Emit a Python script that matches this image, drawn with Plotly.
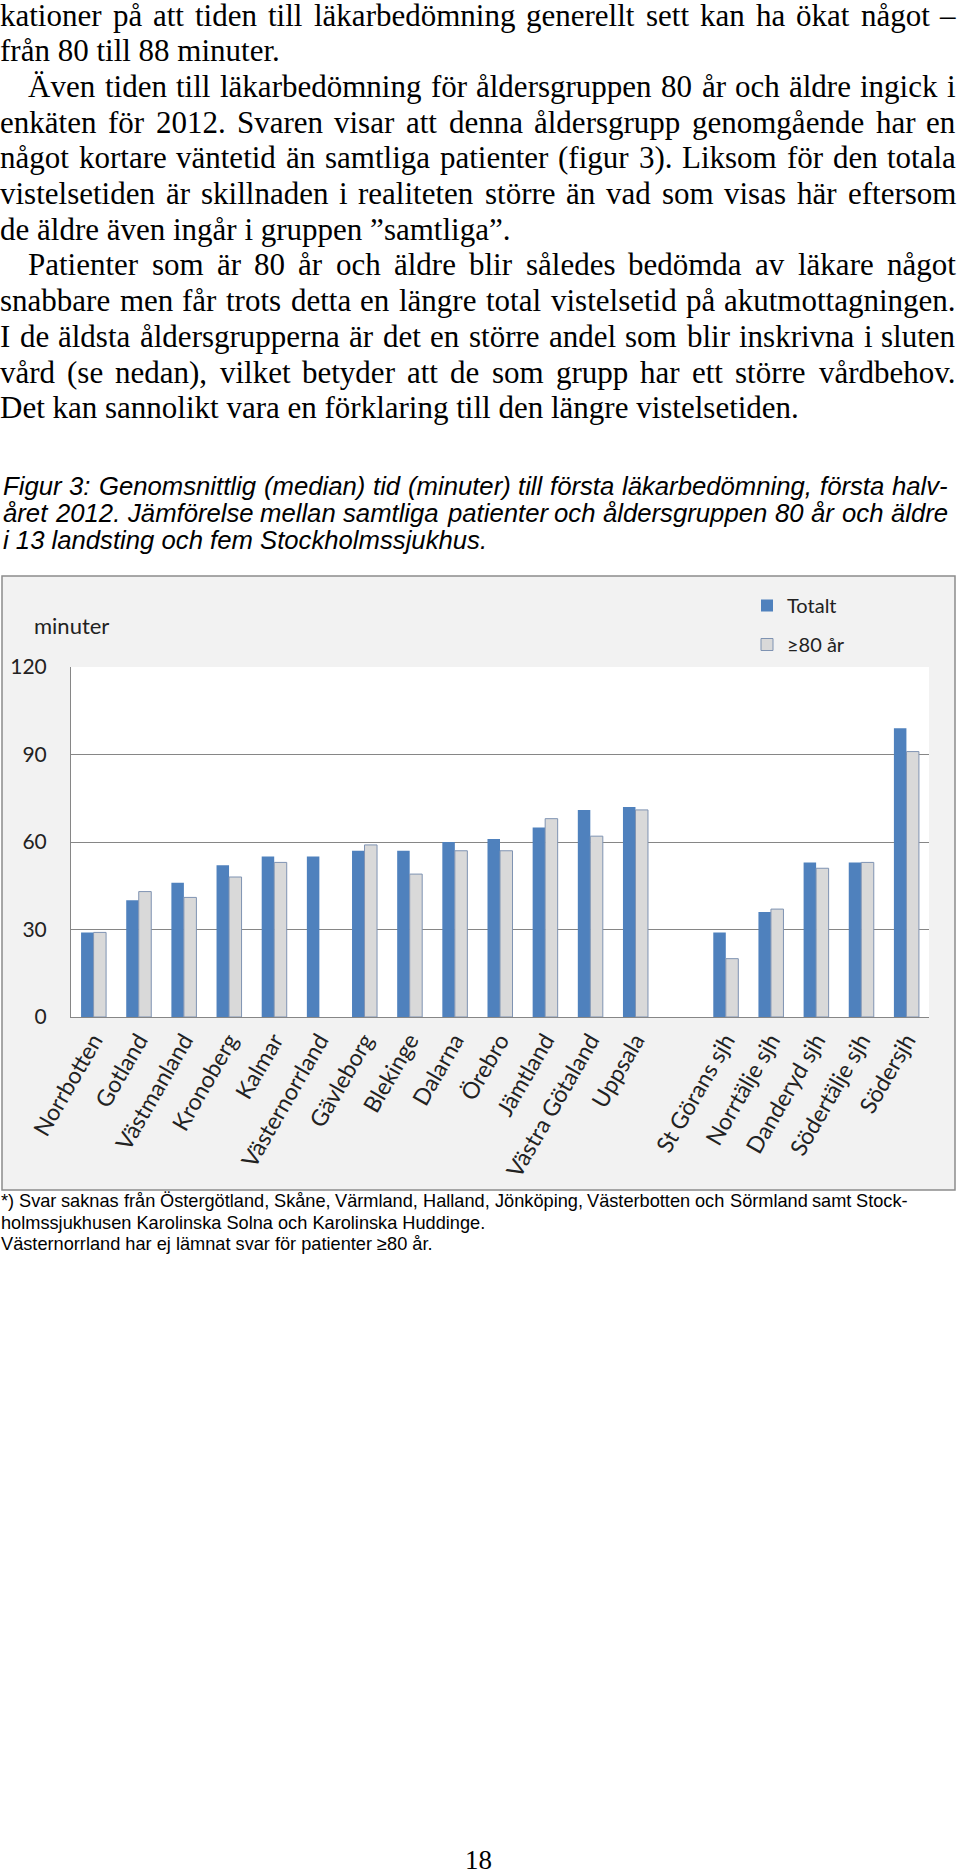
import plotly.graph_objects as go

# ---------------- data ----------------
categories = ["Norrbotten", "Gotland", "Västmanland", "Kronoberg", "Kalmar",
              "Västernorrland", "Gävleborg", "Blekinge", "Dalarna", "Örebro",
              "Jämtland", "Västra Götaland", "Uppsala", " ",
              "St Görans sjh", "Norrtälje sjh", "Danderyd sjh", "Södertälje sjh", "Södersjh"]
totalt = [29, 40, 46, 52, 55, 55, 57, 57, 60, 61, 65, 71, 72, None, 29, 36, 53, 53, 99]
over80 = [29, 43, 41, 48, 53, None, 59, 49, 57, 57, 68, 62, 71, None, 20, 37, 51, 53, 91]
y_ticks = [0, 30, 60, 90, 120]

body_lines = [
    "kationer på att tiden till läkarbedömning generellt sett kan ha ökat något –",
    "från 80 till 88 minuter.",
    "Även tiden till läkarbedömning för åldersgruppen 80 år och äldre ingick i",
    "enkäten för 2012. Svaren visar att denna åldersgrupp genomgående har en",
    "något kortare väntetid än samtliga patienter (figur 3). Liksom för den totala",
    "vistelsetiden är skillnaden i realiteten större än vad som visas här eftersom",
    "de äldre även ingår i gruppen ”samtliga”.",
    "Patienter som är 80 år och äldre blir således bedömda av läkare något",
    "snabbare men får trots detta en längre total vistelsetid på akutmottagningen.",
    "I de äldsta åldersgrupperna är det en större andel som blir inskrivna i sluten",
    "vård (se nedan), vilket betyder att de som grupp har ett större vårdbehov.",
    "Det kan sannolikt vara en förklaring till den längre vistelsetiden.",
]
body_indented = [2, 7]
body_last_lines = [1, 6, 11]
caption_lines = [
    "Figur 3: Genomsnittlig (median) tid (minuter) till första läkarbedömning, första halv-",
    "året 2012. Jämförelse mellan samtliga patienter och åldersgruppen 80 år och äldre",
    "i 13 landsting och fem Stockholmssjukhus.",
]
caption_last_lines = [2]
footnote_lines = [
    "*) Svar saknas från Östergötland, Skåne, Värmland, Halland, Jönköping, Västerbotten och Sörmland samt Stock-",
    "holmssjukhusen Karolinska Solna och Karolinska Huddinge.",
    "Västernorrland har ej lämnat svar för patienter ≥80 år.",
]
footnote_last_lines = [1, 2]
page_number = "18"

# ---------------- font metrics (advance widths, 1/1000 em) used to justify text ----------------
SERIF_W = {' ': 250, '–': 500, '”': 444, '(': 333, ')': 333, ',': 250, '.': 250, ':': 278,
           'A': 722, 'B': 667, 'C': 667, 'D': 722, 'E': 611, 'F': 556, 'G': 722, 'H': 722, 'I': 333,
           'J': 389, 'K': 722, 'L': 611, 'M': 889, 'N': 722, 'O': 722, 'P': 556, 'Q': 722, 'R': 667,
           'S': 556, 'T': 611, 'U': 722, 'V': 722, 'W': 944, 'X': 722, 'Y': 722, 'Z': 611,
           'a': 444, 'b': 500, 'c': 444, 'd': 500, 'e': 444, 'f': 333, 'g': 500, 'h': 500, 'i': 278,
           'j': 278, 'k': 500, 'l': 278, 'm': 778, 'n': 500, 'o': 500, 'p': 500, 'q': 500, 'r': 333,
           's': 389, 't': 278, 'u': 500, 'v': 500, 'w': 722, 'x': 500, 'y': 500, 'z': 444,
           'å': 444, 'ä': 444, 'ö': 500, 'Å': 722, 'Ä': 722, 'Ö': 722}
SANS_W = {' ': 278, '(': 333, ')': 333, ',': 278, '.': 278, ':': 278, '-': 333, '*': 389, '≥': 549,
          'A': 667, 'B': 667, 'C': 722, 'D': 722, 'E': 667, 'F': 611, 'G': 778, 'H': 722, 'I': 278,
          'J': 500, 'K': 667, 'L': 556, 'M': 833, 'N': 722, 'O': 778, 'P': 667, 'Q': 778, 'R': 722,
          'S': 667, 'T': 611, 'U': 722, 'V': 667, 'W': 944, 'X': 667, 'Y': 667, 'Z': 611,
          'a': 556, 'b': 556, 'c': 500, 'd': 556, 'e': 556, 'f': 278, 'g': 556, 'h': 556, 'i': 222,
          'j': 222, 'k': 500, 'l': 222, 'm': 833, 'n': 556, 'o': 556, 'p': 556, 'q': 556, 'r': 333,
          's': 500, 't': 278, 'u': 556, 'v': 500, 'w': 722, 'x': 500, 'y': 500, 'z': 500,
          'å': 556, 'ä': 556, 'ö': 556, 'Å': 667, 'Ä': 667, 'Ö': 778}
for d in range(10):
    SERIF_W[str(d)] = 500
    SANS_W[str(d)] = 556

# ---------------- layout geometry (pixels) ----------------
W, H = 960, 1875
L, R, T, B = 71, 929, 667, 1017
PW, PH = R - L, B - T


def fx(px):
    return (px - L) / PW


def fy(py):
    return (B - py) / PH


BLUE = "#4F81BD"
GREY = "#D9D9D9"
GRID = "#868686"
CHART_FONT = "Lato, Calibri, Carlito, sans-serif"
SERIF = "Liberation Serif, Times New Roman, serif"
SANS = "Liberation Sans, Arial, sans-serif"

annotations = []


def text_line(line, y, x_left, x_right, size, family, metrics, justify, italic=False):
    font = dict(family=family, size=size, color="black")
    wrap = (lambda s: "<i>" + s + "</i>") if italic else (lambda s: s)
    words = line.split(" ")
    if not justify or len(words) < 2:
        annotations.append(dict(text=wrap(line), xref="paper", yref="paper", x=fx(x_left), y=fy(y),
                                xanchor="left", yanchor="middle", showarrow=False, font=font,
                                borderpad=0, borderwidth=0))
        return
    widths = [sum(metrics.get(c, 500) for c in w) * size / 1000 for w in words]
    gap = (x_right - x_left - sum(widths)) / (len(words) - 1)
    pos = x_left
    for i, (w, wd) in enumerate(zip(words, widths)):
        if i == len(words) - 1:
            annotations.append(dict(text=wrap(w), xref="paper", yref="paper", x=fx(x_right), y=fy(y),
                                    xanchor="right", yanchor="middle", showarrow=False, font=font,
                                    borderpad=0, borderwidth=0))
        else:
            annotations.append(dict(text=wrap(w), xref="paper", yref="paper", x=fx(pos), y=fy(y),
                                    xanchor="left", yanchor="middle", showarrow=False, font=font,
                                    borderpad=0, borderwidth=0))
        pos += wd + gap


for i, line in enumerate(body_lines):
    text_line(line, 15 + 35.7 * i, 28 if i in body_indented else 0, 956, 31, SERIF, SERIF_W,
              i not in body_last_lines)
for i, line in enumerate(caption_lines):
    text_line(line, 486 + 27 * i, 3, 948, 25.7, SANS, SANS_W, i not in caption_last_lines, italic=True)
for i, line in enumerate(footnote_lines):
    text_line(line, 1201 + 21.5 * i, 1, 908, 18.2, SANS, SANS_W, i not in footnote_last_lines)

annotations.append(dict(
    text=page_number, xref="paper", yref="paper", x=fx(478), y=fy(1860),
    xanchor="center", yanchor="middle", showarrow=False,
    font=dict(family=SERIF, size=27, color="black")))
annotations.append(dict(
    text="minuter", xref="paper", yref="paper", x=fx(32), y=fy(625),
    xanchor="left", yanchor="middle", showarrow=False,
    font=dict(family=CHART_FONT, size=22, color="#222222")))

shapes = [
    dict(type="rect", xref="paper", yref="paper", x0=fx(2), x1=fx(955), y0=fy(1190), y1=fy(576),
         fillcolor="#F2F2F2", line=dict(color="#8C8C8C", width=1.5), layer="below"),
    dict(type="rect", xref="paper", yref="paper", x0=0, x1=1, y0=0, y1=1,
         fillcolor="white", line=dict(width=0), layer="below"),
]

fig = go.Figure()
fig.add_trace(go.Bar(x=categories, y=totalt, name="Totalt", marker_color=BLUE,
                     marker_line_width=0, legendgroup="a"))
fig.add_trace(go.Bar(x=categories, y=over80, name="≥80 år", marker_color=GREY,
                     marker_line_color="#7F93B2", marker_line_width=1, legendgroup="b"))

fig.update_layout(
    width=W, height=H,
    margin=dict(l=L, r=W - R, t=T, b=H - B, autoexpand=False),
    paper_bgcolor="white", plot_bgcolor="white",
    barmode="group", bargap=0.446, bargroupgap=0,
    shapes=shapes, annotations=annotations,
    showlegend=True,
    legend=dict(x=fx(747), y=fy(586), xanchor="left", yanchor="top",
                font=dict(family=CHART_FONT, size=20, color="#222222"),
                bgcolor="rgba(0,0,0,0)", tracegroupgap=10, traceorder="grouped"),
    xaxis=dict(type="category", categoryorder="array", categoryarray=categories,
               tickangle=-60, showgrid=False, showline=True, linecolor=GRID, linewidth=1,
               ticks="", tickfont=dict(family=CHART_FONT, size=23, color="#222222")),
    yaxis=dict(range=[0, 120], tickvals=y_ticks, showgrid=True, gridcolor=GRID, gridwidth=1,
               showline=True, linecolor=GRID, linewidth=1, zeroline=False, ticks="",
               ticklabelstandoff=19,
               tickfont=dict(family=CHART_FONT, size=21, color="#222222")),
)

fig.write_html("out.html", config={"displayModeBar": False},
               post_script="document.body.style.margin='0';document.body.style.overflow='hidden';")
